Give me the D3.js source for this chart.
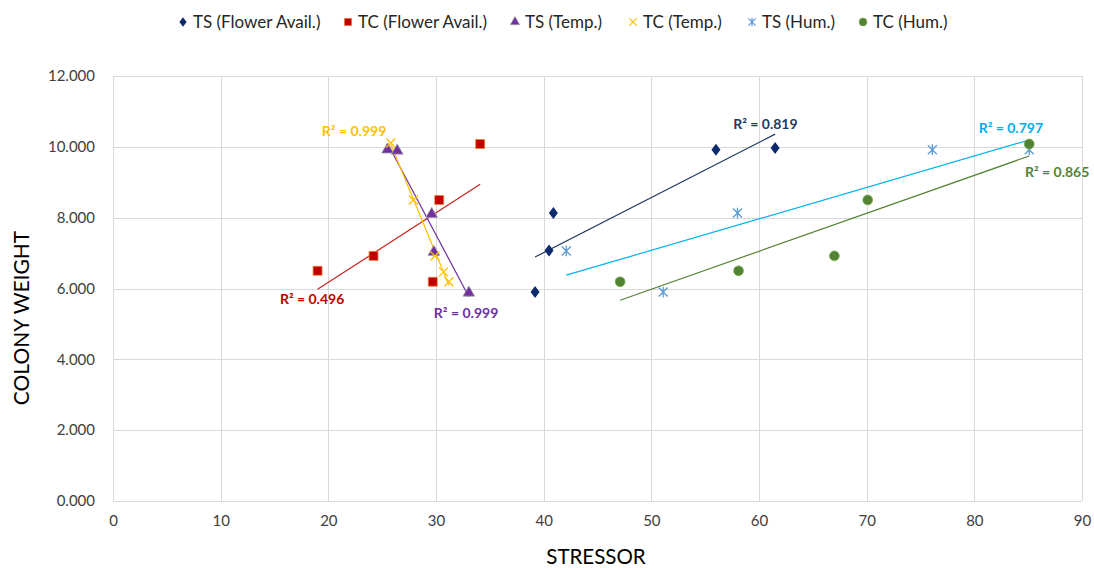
<!DOCTYPE html>
<html>
<head>
<meta charset="utf-8">
<script src="https://cdn.jsdelivr.net/npm/d3@7"></script>
<style>
  body { margin: 0; background: #fff; }
  svg text { font-family: Lato, "Open Sans", sans-serif; }
</style>
</head>
<body>
<svg id="chart" width="1094" height="570"></svg>
<script>
// ---- data ----
var seriesNames = ["TS (Flower Avail.)", "TC (Flower Avail.)", "TS (Temp.)", "TC (Temp.)", "TS (Hum.)", "TC (Hum.)"];

var tsFlowerX = [39.2, 40.5, 40.9, 56.0, 61.5];
var tsFlowerY = [5.90, 7.07, 8.13, 9.92, 9.97];

var tcFlowerX = [19.0, 24.2, 29.7, 30.3, 34.1];
var tcFlowerY = [6.50, 6.92, 6.19, 8.50, 10.08];

var tsTempX = [25.5, 26.4, 29.6, 29.8, 33.05];
var tsTempY = [9.92, 9.89, 8.10, 7.03, 5.88];

var tcTempX = [25.8, 27.9, 29.9, 30.7, 31.2];
var tcTempY = [10.11, 8.50, 6.92, 6.47, 6.19];

var tsHumX = [42.1, 51.1, 58.0, 76.1, 85.1];
var tsHumY = [7.06, 5.90, 8.13, 9.92, 9.92];

var tcHumX = [47.1, 58.1, 67.0, 70.1, 85.1];
var tcHumY = [6.19, 6.50, 6.92, 8.50, 10.08];

var r2Labels = ["0.819", "0.496", "0.999", "0.999", "0.797", "0.865"];

var xTicks = [0, 10, 20, 30, 40, 50, 60, 70, 80, 90];
var yTicks = [0, 2, 4, 6, 8, 10, 12];

// ---- styles / layout ----
var styles = [
  { shape: "diamond",  fill: "#0d2a6e", stroke: "none",    line: "#1f3864", label: "#1f3864", lx: 57.6, ly: 10.50 },
  { shape: "square",   fill: "#c00000", stroke: "#ee7d31", line: "#c9211e", label: "#c00000", lx: 15.5, ly: 5.56 },
  { shape: "triangle", fill: "#7030a0", stroke: "#a5a5a5", line: "#7030a0", label: "#7030a0", lx: 29.8, ly: 5.17 },
  { shape: "x",        fill: "none",    stroke: "#ffc000", line: "#ffc000", label: "#ffc000", lx: 19.4, ly: 10.30 },
  { shape: "star",     fill: "none",    stroke: "#5b9bd5", line: "#00b0f0", label: "#00b0f0", lx: 80.4, ly: 10.39 },
  { shape: "circle",   fill: "#548235", stroke: "#70ad47", line: "#548235", label: "#548235", lx: 84.7, ly: 9.15 }
];

var seriesX = [tsFlowerX, tcFlowerX, tsTempX, tcTempX, tsHumX, tcHumX];
var seriesY = [tsFlowerY, tcFlowerY, tsTempY, tcTempY, tsHumY, tcHumY];

var margin = { left: 113, right: 12, top: 76, bottom: 69 };
var W = 1094, H = 570;

var svg = d3.select("#chart");

var x = d3.scaleLinear().domain([0, 90]).range([margin.left, W - margin.right]);
var y = d3.scaleLinear().domain([0, 12]).range([H - margin.bottom, margin.top]);

// gridlines
svg.append("g").selectAll("line.h").data(yTicks).join("line")
  .attr("x1", x(0)).attr("x2", x(90))
  .attr("y1", function (d) { return Math.round(y(d)) + 0.5; })
  .attr("y2", function (d) { return Math.round(y(d)) + 0.5; })
  .attr("stroke", "#d9d9d9").attr("stroke-width", 1);

svg.append("g").selectAll("line.v").data(xTicks).join("line")
  .attr("y1", y(0)).attr("y2", y(12))
  .attr("x1", function (d) { return Math.round(x(d)) + 0.5; })
  .attr("x2", function (d) { return Math.round(x(d)) + 0.5; })
  .attr("stroke", "#d9d9d9").attr("stroke-width", 1);

// axes (labels only, Excel style)
var xAxis = svg.append("g").attr("transform", "translate(0," + (y(0) + 6) + ")")
  .call(d3.axisBottom(x).tickValues(xTicks).tickSize(0).tickPadding(8));
xAxis.select(".domain").remove();
xAxis.selectAll("text").attr("font-size", 15).attr("fill", "#404040")
  .style("font-family", "Lato, sans-serif");

var yAxis = svg.append("g").attr("transform", "translate(" + (x(0) - 8) + ",0)")
  .call(d3.axisLeft(y).tickValues(yTicks).tickSize(0).tickPadding(10).tickFormat(d3.format(".3f")));
yAxis.select(".domain").remove();
yAxis.selectAll("text").attr("font-size", 15).attr("fill", "#404040")
  .style("font-family", "Lato, sans-serif");

// axis titles
svg.append("text").attr("x", 596).attr("y", 564)
  .attr("text-anchor", "middle").attr("font-size", 20.5).attr("fill", "#000")
  .text("STRESSOR");
svg.append("text").attr("transform", "translate(29,318) rotate(-90)")
  .attr("text-anchor", "middle").attr("font-size", 21).attr("fill", "#000")
  .text("COLONY WEIGHT");

// marker paths
function markerPath(shape, s) {
  if (shape === "diamond") return "M0," + (-s * 0.6) + "L" + (s * 0.45) + ",0L0," + (s * 0.6) + "L" + (-s * 0.45) + ",0Z";
  if (shape === "square") return d3.symbol(d3.symbolSquare, s * s * 0.8)();
  if (shape === "triangle") return d3.symbol(d3.symbolTriangle, s * s * 0.6)();
  if (shape === "circle") return d3.symbol(d3.symbolCircle, s * s * 0.75)();
  var h = s * 0.45;
  if (shape === "x") return "M" + (-h) + "," + (-h) + "L" + h + "," + h + "M" + (-h) + "," + h + "L" + h + "," + (-h);
  // asterisk: x plus vertical stroke
  return "M" + (-h) + "," + (-h) + "L" + h + "," + h + "M" + (-h) + "," + h + "L" + h + "," + (-h) +
    "M0," + (-h * 1.2) + "L0," + (h * 1.2);
}

// least squares fit
function fit(xs, ys) {
  var mx = d3.mean(xs), my = d3.mean(ys);
  var sxy = d3.sum(xs, function (v, i) { return (v - mx) * (ys[i] - my); });
  var sxx = d3.sum(xs, function (v) { return (v - mx) * (v - mx); });
  var b = sxy / sxx;
  return { a: my - b * mx, b: b };
}

// trendlines
seriesX.forEach(function (xs, i) {
  var f = fit(xs, seriesY[i]);
  var ext = d3.extent(xs);
  svg.append("line")
    .attr("x1", x(ext[0])).attr("y1", y(f.a + f.b * ext[0]))
    .attr("x2", x(ext[1])).attr("y2", y(f.a + f.b * ext[1]))
    .attr("stroke", styles[i].line).attr("stroke-width", 1.2);
});

// markers
seriesX.forEach(function (xs, i) {
  var st = styles[i];
  var pts = xs.map(function (v, j) { return [v, seriesY[i][j]]; });
  svg.append("g").selectAll("path").data(pts).join("path")
    .attr("transform", function (d) { return "translate(" + x(d[0]) + "," + y(d[1]) + ")"; })
    .attr("d", markerPath(st.shape, 10))
    .attr("fill", st.fill)
    .attr("stroke", st.stroke)
    .attr("stroke-width", st.fill === "none" ? 1.3 : 0.8);
});

// R² labels
seriesX.forEach(function (xs, i) {
  var st = styles[i];
  svg.append("text")
    .attr("x", x(st.lx)).attr("y", y(st.ly))
    .attr("font-size", 14).attr("font-weight", "bold").attr("fill", st.label)
    .text("R² = " + r2Labels[i]);
});

// legend
var legendPos = [183, 348, 515, 633, 752, 863];
var lg = svg.append("g").attr("transform", "translate(0,22)");
seriesNames.forEach(function (name, i) {
  var st = styles[i];
  var g = lg.append("g").attr("transform", "translate(" + legendPos[i] + ",0)");
  g.append("path").attr("d", markerPath(st.shape, 8))
    .attr("fill", st.fill).attr("stroke", st.stroke)
    .attr("stroke-width", st.fill === "none" ? 1.2 : 0.6);
  g.append("text").attr("x", 10).attr("y", 6)
    .attr("font-size", 17).attr("fill", "#262626").text(name);
});
</script>
</body>
</html>
